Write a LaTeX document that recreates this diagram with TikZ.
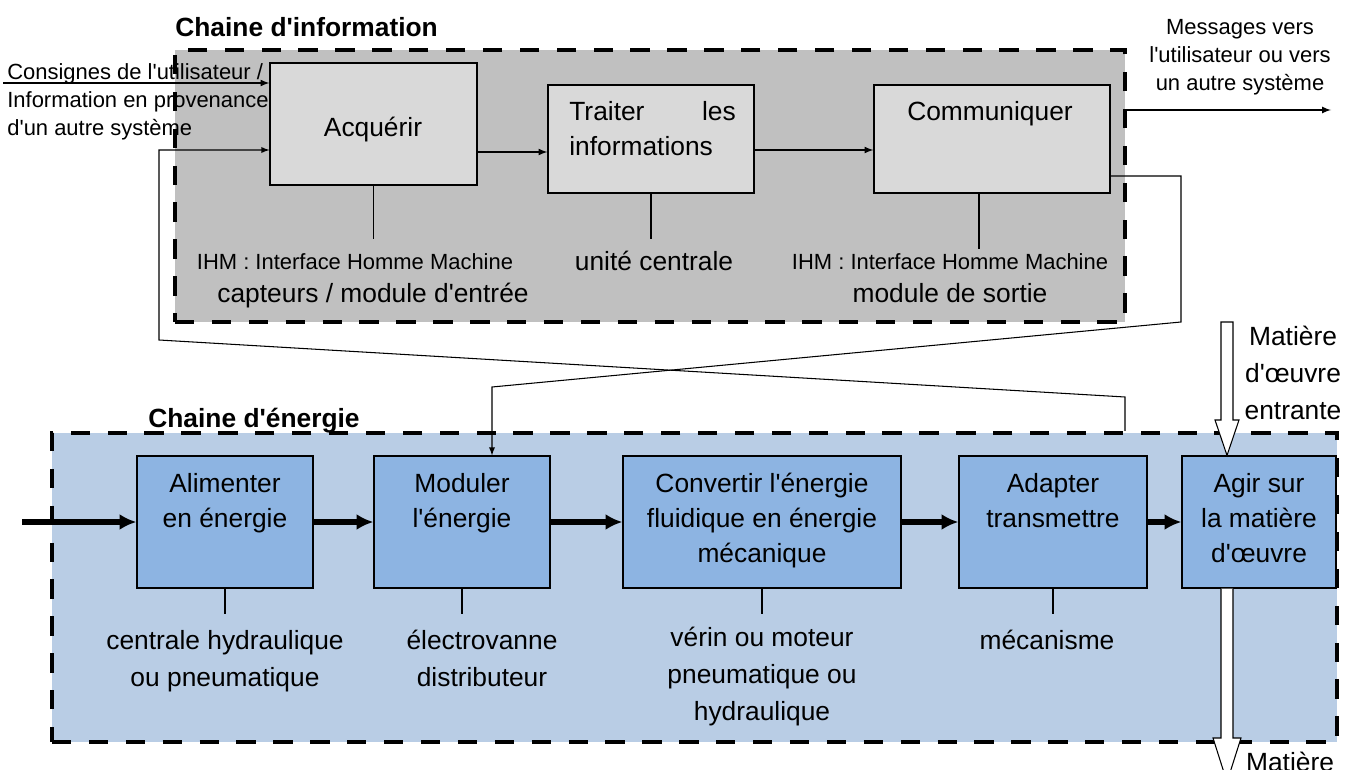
\documentclass[tikz,border=0pt]{standalone}
\usepackage{fontspec}
\setmainfont{Liberation Sans}[Ligatures=TeXOff]
\usetikzlibrary{fit,arrows.meta}
\definecolor{fondinfo}{HTML}{C0C0C0}
\definecolor{boiteinfo}{HTML}{D9D9D9}
\definecolor{fondener}{HTML}{B9CDE5}
\definecolor{boiteener}{HTML}{8DB4E2}

\begin{document}
\begin{tikzpicture}[x=0.02cm,y=-0.02cm,
  every path/.style={>=latex},
  chaine/.style={draw,line width=2.3pt,dash pattern=on 11pt off 10pt,inner sep=0pt},
  ibox/.style={draw,line width=0.7pt,fill=boiteinfo,inner sep=0pt},
  ebox/.style={draw,line width=0.7pt,fill=boiteener,inner sep=0pt},
  txt/.style={inner sep=0pt,align=center,font=\fontsize{15}{19.8}\selectfont},
  legende/.style={inner sep=0pt,align=center,font=\fontsize{15}{21}\selectfont},
  petit/.style={inner sep=0pt,align=center,font=\fontsize{12.5}{16.2}\selectfont},
  titre/.style={inner sep=0pt,font=\fontsize{15}{18}\selectfont\bfseries},
  fleche/.style={-{Latex[length=9.5pt,width=9pt]},line width=3pt},
  fil/.style={line width=0.6pt},
  lien/.style={->,line width=0.75pt}]
\useasboundingbox (0,0) rectangle (1359,770);

\node[chaine,fill=fondinfo,fit={(175,50)(1125,322)}] (info) {};
\node[chaine,fill=fondener,fit={(52,433)(1337,742)}] (ener) {};
\node[titre,anchor=base west] (tinfo) at (175,37)  {Chaine d'information};
\node[titre,anchor=base west] (tener) at (148,427) {Chaine d'énergie};

\node[ibox,fit={(270,63)(477,185)}]  (acq)  {};
\node[ibox,fit={(548,85)(754,193)}]  (trai) {};
\node[ibox,fit={(874,85)(1110,193)}] (comm) {};
\node[ebox,fit={(137,456)(313,588)}]   (alim) {};
\node[ebox,fit={(374,456)(550,588)}]   (modu) {};
\node[ebox,fit={(623,456)(901,588)}]   (conv) {};
\node[ebox,fit={(959,456)(1147,588)}]  (adap) {};
\node[ebox,fit={(1182,456)(1336,588)}] (agir) {};

\node[txt,anchor=base]      (tacq)  at (373,137) {Acquérir};
\node[txt,anchor=base west,text width=94.7pt,align=left] (ttrai) at (569,121) {Traiter \hfill les\\informations};
\node[txt,anchor=base]      (tcomm) at (990,121) {Communiquer};
\node[petit,anchor=base]    (ihm1)  at (355,270) {IHM : Interface Homme Machine};
\node[txt,anchor=base]      (capt)  at (373,302) {capteurs / module d'entrée};
\node[txt,anchor=base]      (uc)    at (654,271) {unité centrale};
\node[petit,anchor=base]    (ihm2)  at (950,270) {IHM : Interface Homme Machine};
\node[txt,anchor=base]      (sortie) at (950,302) {module de sortie};
\node[petit,anchor=base]    (msg)   at (1240,91) {Messages vers\\l'utilisateur ou vers\\un autre système};
\node[petit,anchor=base west,align=left] (consignes) at (7,136) {Consignes de l'utilisateur /\\Information en provenance\\d'un autre système};

\node[txt,anchor=base] (talim) at (225,527)  {Alimenter\\en énergie};
\node[txt,anchor=base] (tmodu) at (462,527)  {Moduler\\l'énergie};
\node[txt,anchor=base] (tconv) at (762,562)  {Convertir l'énergie\\fluidique en énergie\\mécanique};
\node[txt,anchor=base] (tadap) at (1053,527) {Adapter\\transmettre};
\node[txt,anchor=base] (tagir) at (1259,562) {Agir sur\\la matière\\d'œuvre};
\node[legende,anchor=base] (lalim) at (225,686)  {centrale hydraulique\\ou pneumatique};
\node[legende,anchor=base] (lmodu) at (482,686)  {électrovanne\\distributeur};
\node[legende,anchor=base] (lconv) at (762,720)  {vérin ou moteur\\pneumatique ou\\hydraulique};
\node[legende,anchor=base] (ladap) at (1047,649) {mécanisme};
\node[legende,anchor=base] (entree)  at (1293,419) {Matière\\d'œuvre\\entrante};
\node[txt,anchor=base]     (sortant) at (1290,771) {Matière};

\coordinate (consigne) at (3,83);
\coordinate (message)  at (1331,110);
\coordinate (source)   at (22,522);
\coordinate (coin1)    at (1181,322);
\coordinate (coin2)    at (492,387);
\coordinate (coin3)    at (1125,397);
\coordinate (coin4)    at (159,340);

\draw[lien] (consigne) -- (acq.west |- consigne);
\draw[lien] (acq.east |- 0,152) -- (trai.west |- 0,152);
\draw[lien] (trai.east |- 0,150) -- (comm.west |- 0,150);
\draw[lien] (info.east |- message) -- (message);
\draw[->,fil] (comm.east |- 0,176) -| (coin1) -- (coin2) -- (modu.north -| coin2);
\draw[->,fil] (ener.north -| coin3) -- (coin3) -- (coin4) |- (acq.west |- 0,150);

\draw[fil] (acq.south) -- ++(0,53);
\draw[fil] (trai.south) -- ++(0,45);
\draw[fil] ([xshift=-0.26cm]comm.south) -- ++(0,55);
\draw[fil] (alim.south) -- ++(0,25);
\draw[fil] (modu.south) -- ++(0,25);
\draw[fil] (conv.south) -- ++(0,25);
\draw[fil] (adap.south) -- ++(0,25);

\draw[fleche] (source) -- (alim);
\draw[fleche] (alim) -- (modu);
\draw[fleche] (modu) -- (conv);
\draw[fleche] (conv) -- (adap);
\draw[fleche] (adap) -- (agir);

\draw[fil,fill=white] (1221,322) -- (1221,420) -- (1215,420) -- (agir.north -| 1227,0) -- (1239,420) -- (1233,420) -- (1233,322) -- cycle;
\draw[fil,fill=white] (agir.south -| 1221,0) -- (1221,738) -- (1213,738) -- (1227,782) -- (1241,738) -- (1233,738) -- (agir.south -| 1233,0);
\end{tikzpicture}
\end{document}
